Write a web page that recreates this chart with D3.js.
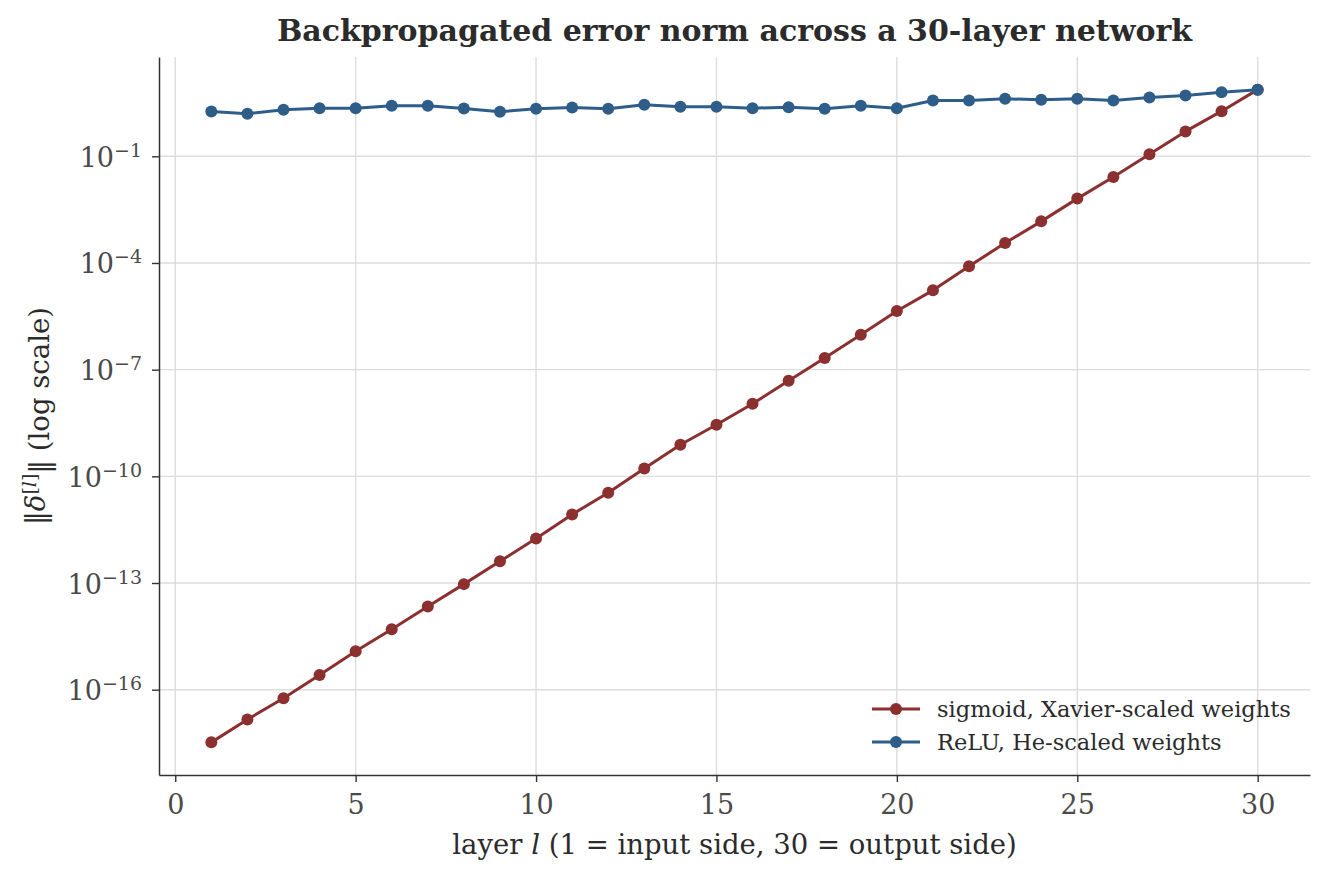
<!DOCTYPE html>
<html>
<head>
<meta charset="utf-8">
<script src="https://cdn.jsdelivr.net/npm/d3@7"></script>
<style>
  body { margin: 0; background: #ffffff; }
  text { font-family: "DejaVu Serif", serif; }
</style>
</head>
<body>
<svg id="chart" width="1328" height="880"></svg>
<script>
// ---------------- data ----------------
const layers = [1, 2, 3, 4, 5, 6, 7, 8, 9, 10, 11, 12, 13, 14, 15,
                16, 17, 18, 19, 20, 21, 22, 23, 24, 25, 26, 27, 28, 29, 30];
const sigmoidNorm = [3.3e-18, 1.45e-17, 5.75e-17, 2.57e-16, 1.2e-15, 5.0e-15, 2.19e-14, 9.3e-14, 4.07e-13, 1.78e-12,
                     8.5e-12, 3.47e-11, 1.66e-10, 7.76e-10, 2.82e-9, 1.10e-8, 4.9e-8, 2.14e-7, 9.55e-7, 4.47e-6,
                     1.70e-5, 8.13e-5, 3.63e-4, 1.48e-3, 6.46e-3, 2.63e-2, 0.115, 0.501, 1.86, 7.5];
const reluNorm = [1.83, 1.57, 2.04, 2.26, 2.26, 2.64, 2.64, 2.22, 1.79, 2.17,
                  2.37, 2.17, 2.81, 2.47, 2.47, 2.26, 2.41, 2.17, 2.64, 2.26,
                  3.72, 3.72, 4.15, 3.89, 4.15, 3.72, 4.51, 5.13, 6.35, 7.5];
const seriesNames = ["sigmoid, Xavier-scaled weights", "ReLU, He-scaled weights"];
const seriesColors = ["#8b2f2f", "#2e5d8a"];
const xTickValues = [0, 5, 10, 15, 20, 25, 30];
const yTickExponents = [-16, -13, -10, -7, -4, -1];
const titleText = "Backpropagated error norm across a 30-layer network";

// ---------------- layout ----------------
const plot = { left: 159, right: 1310, top: 57, bottom: 775 };
const svg = d3.select("#chart");

const xPad = (d3.max(layers) - d3.min(layers)) * 0.05;
const x = d3.scaleLinear()
  .domain([d3.min(layers) - xPad, d3.max(layers) + xPad])
  .range([plot.left, plot.right]);

const allVals = sigmoidNorm.concat(reluNorm);
const lmin = Math.log10(d3.min(allVals)), lmax = Math.log10(d3.max(allVals));
const lpad = (lmax - lmin) * 0.05;
const y = d3.scaleLog()
  .domain([Math.pow(10, lmin - lpad), Math.pow(10, lmax + lpad)])
  .range([plot.bottom, plot.top]);

const yTicks = yTickExponents.map(e => Math.pow(10, e));

// ---------------- grid ----------------
const grid = svg.append("g");
grid.selectAll("line.vx").data(xTickValues).enter().append("line")
  .attr("x1", d => x(d)).attr("x2", d => x(d))
  .attr("y1", plot.top).attr("y2", plot.bottom)
  .attr("stroke", "#dddddd").attr("stroke-width", 1.4);
grid.selectAll("line.hy").data(yTicks).enter().append("line")
  .attr("x1", plot.left).attr("x2", plot.right)
  .attr("y1", d => y(d)).attr("y2", d => y(d))
  .attr("stroke", "#dddddd").attr("stroke-width", 1.4);

// ---------------- series ----------------
const series = [
  { name: seriesNames[0], color: seriesColors[0], values: sigmoidNorm },
  { name: seriesNames[1], color: seriesColors[1], values: reluNorm }
];
const line = d3.line().x(d => x(d[0])).y(d => y(d[1]));
series.forEach(s => {
  const pts = layers.map((l, i) => [l, s.values[i]]);
  const g = svg.append("g");
  g.append("path").datum(pts)
    .attr("d", line).attr("fill", "none")
    .attr("stroke", s.color).attr("stroke-width", 3)
    .attr("stroke-linejoin", "round");
  g.selectAll("circle").data(pts).enter().append("circle")
    .attr("cx", d => x(d[0])).attr("cy", d => y(d[1]))
    .attr("r", 6).attr("fill", s.color);
});

// ---------------- axes ----------------
const axisColor = "#333333";
const tickTextColor = "#4a4a4a";

const xAxis = svg.append("g")
  .attr("transform", `translate(0,${plot.bottom})`)
  .call(d3.axisBottom(x).tickValues(xTickValues).tickSize(7).tickSizeOuter(0).tickPadding(13));
const yAxis = svg.append("g")
  .attr("transform", `translate(${plot.left},0)`)
  .call(d3.axisLeft(y).tickValues(yTicks).tickSize(7).tickSizeOuter(0).tickPadding(10).tickFormat(() => ""));

[xAxis, yAxis].forEach(a => {
  a.select(".domain").attr("stroke", axisColor).attr("stroke-width", 1.5);
  a.selectAll(".tick line").attr("stroke", axisColor).attr("stroke-width", 1.4);
  a.selectAll(".tick text").attr("fill", tickTextColor)
    .style("font-family", '"DejaVu Serif", serif').style("font-size", "27px");
});

yAxis.selectAll(".tick text").attr("dy", "0.37em").each(function(d) {
  const t = d3.select(this);
  t.text(null);
  const e = Math.round(Math.log10(d));
  t.append("tspan").text("10");
  t.append("tspan").attr("dy", "-10px").style("font-size", "19px").text("\u2212" + Math.abs(e));
});

// ---------------- title & labels ----------------
svg.append("text")
  .attr("x", (plot.left + plot.right) / 2).attr("y", 41)
  .attr("text-anchor", "middle")
  .style("font-size", "30px").style("font-weight", "bold")
  .attr("fill", "#2b2b2b")
  .text(titleText);

const xl = svg.append("text")
  .attr("x", (plot.left + plot.right) / 2).attr("y", 854)
  .attr("text-anchor", "middle")
  .style("font-size", "27.5px").attr("fill", "#2b2b2b");
xl.append("tspan").text("layer ");
xl.append("tspan").style("font-style", "italic").text("l");
xl.append("tspan").text(" (1 = input side, 30 = output side)");

const yl = svg.append("text")
  .attr("transform", `translate(45,${(plot.top + plot.bottom) / 2}) rotate(-90)`)
  .attr("text-anchor", "middle")
  .style("font-size", "27.5px").attr("fill", "#2b2b2b");
yl.append("tspan").text("\u2016");
yl.append("tspan").style("font-style", "italic").text("\u03b4");
yl.append("tspan").attr("dy", "-0.5em").style("font-size", "19px").text("[");
yl.append("tspan").style("font-size", "19px").style("font-style", "italic").text("l");
yl.append("tspan").style("font-size", "19px").text("]");
yl.append("tspan").attr("dy", "0.5em").text("\u2016 (log scale)");

// ---------------- legend ----------------
const legend = svg.append("g");
series.forEach((s, i) => {
  const ly = 709 + i * 33;
  legend.append("line")
    .attr("x1", 872).attr("x2", 920).attr("y1", ly).attr("y2", ly)
    .attr("stroke", s.color).attr("stroke-width", 3);
  legend.append("circle").attr("cx", 896).attr("cy", ly).attr("r", 6).attr("fill", s.color);
  legend.append("text")
    .attr("x", 937).attr("y", ly + 8)
    .style("font-size", "22.5px").attr("fill", "#2b2b2b")
    .text(s.name);
});
</script>
</body>
</html>
